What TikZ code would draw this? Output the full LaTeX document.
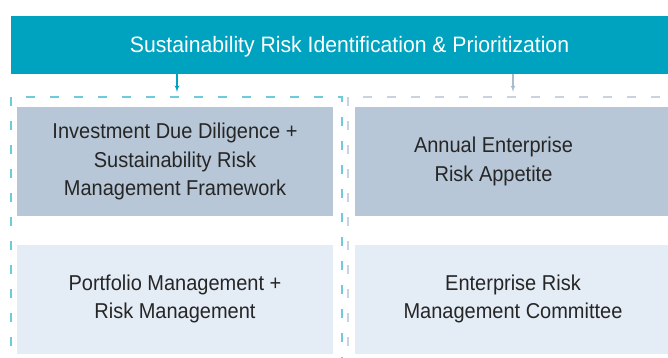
\documentclass[tikz,border=0pt]{standalone}
\usepackage{fontspec}
\setmainfont{Liberation Sans}
\newfontfamily\titlefont{Liberation Sans}[FakeStretch=0.95]
\newfontfamily\boxfont{Liberation Sans}[FakeStretch=0.93]
\usetikzlibrary{arrows}
\definecolor{barteal}{HTML}{00A3BF}
\definecolor{boxgray}{HTML}{B7C7D7}
\definecolor{boxpale}{HTML}{E4ECF6}
\definecolor{dashteal}{HTML}{6ECBDA}
\definecolor{dashgray}{HTML}{C9D3DF}
\definecolor{arrowgray}{HTML}{A9BBCD}
\definecolor{textdark}{HTML}{262626}

\begin{document}
\begin{tikzpicture}[x=1pt,y=-1pt]
\tikzset{topbox/.style = {shape=rectangle, fill=boxgray, minimum width=316pt, minimum height=109pt, inner sep=0pt, align=center, text=textdark, font=\boxfont\fontsize{21.5}{28.5}\selectfont}}
\tikzset{lowbox/.style = {topbox, fill=boxpale}}
\tikzset{boxtext/.style = {align=center, inner sep=0pt, text=textdark, font=\boxfont\fontsize{21.5}{28.5}\selectfont}}
\tikzset{frame/.style = {dash pattern=on 9pt off 15pt, line width=1.8pt}}
\tikzset{edge/.style = {->,> = latex', line width=1.2pt}}
\clip (0,0) rectangle (668,358);

%title
\node[fill=barteal, minimum width=677pt, minimum height=58pt, inner sep=0pt, text height=16pt, text depth=0pt, text=white, font=\titlefont\fontsize{22.3}{26}\selectfont] (title) at (349.5,45) {Sustainability Risk Identification \& Prioritization};

%frames
\draw[frame, draw=dashteal] (11,370) -- (11,97) -- (342,97) -- (342,370);
\draw[frame, draw=dashgray] (348,370) -- (348,97) -- (690,97) -- (690,370);

%boxes
\node[topbox] (idd) at (175,161.5) {Investment Due Diligence +\\Sustainability Risk\\Management Framework};
\node[topbox] (era) at (513,161.5) {};
\node[boxtext] (eralab) at ([xshift=-19.5pt]era.center) {Annual Enterprise\\Risk Appetite};
\node[lowbox] (pm) at (175,299) {Portfolio Management +\\Risk Management};
\node[lowbox] (erc) at (513,299) {Enterprise Risk\\Management Committee};

%edges
\coordinate (lin) at (177,92);
\coordinate (rin) at (513,92);
\draw[edge, draw=barteal] (title.south -| lin) to (lin);
\draw[edge, draw=arrowgray] (title.south -| rin) to (rin);
\end{tikzpicture}
\end{document}
